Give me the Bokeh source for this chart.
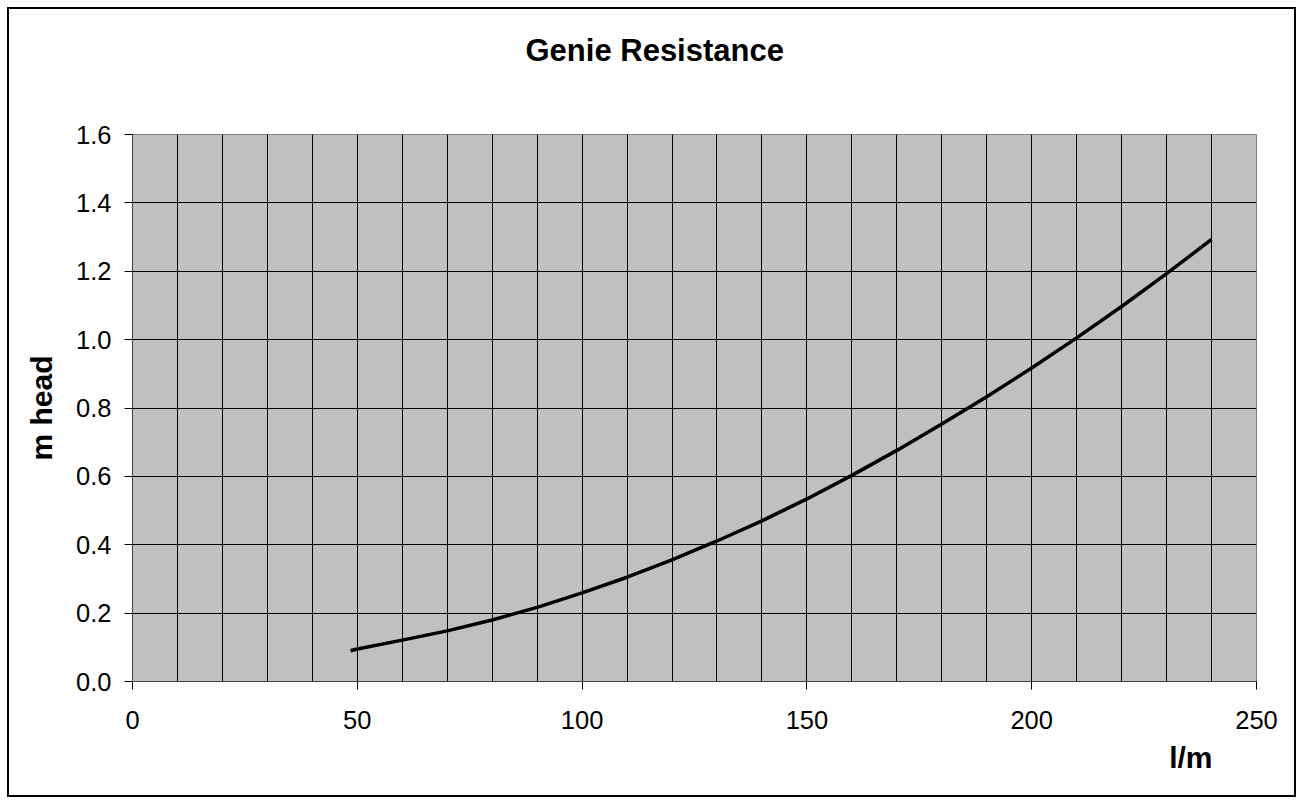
from bokeh.plotting import figure
from bokeh.models import Range1d, SingleIntervalTicker, FixedTicker, PrintfTickFormatter, Title
from bokeh.embed import file_html
from bokeh.resources import INLINE

# data
flow_lpm = [48.5, 50, 60, 70, 80, 90, 100, 110, 120, 130, 140, 150, 160,
            170, 180, 190, 200, 210, 220, 230, 240]
head_m = [0.090, 0.095, 0.121, 0.148, 0.180, 0.217, 0.259, 0.305, 0.356, 0.411,
          0.470, 0.534, 0.603, 0.676, 0.753, 0.833, 0.917, 1.005, 1.097, 1.193, 1.293]
x_ticks = [0, 50, 100, 150, 200, 250]
y_ticks = [0.0, 0.2, 0.4, 0.6, 0.8, 1.0, 1.2, 1.4, 1.6]

FONT = "Liberation Sans"

p = figure(width=1303, height=804, output_backend="svg", toolbar_location=None,
           title=None,
           x_range=Range1d(0, 250), y_range=Range1d(0, 1.6),
           min_border_left=132, min_border_right=47, min_border_top=134,
           min_border_bottom=123)
# outer chart border (drawn by CSS on the plot element)
p.styles = {"outline": "2px solid black", "outline-offset": "-9px"}

p.background_fill_color = "#C0C0C0"
p.border_fill_color = None
p.outline_line_color = "#808080"
p.outline_line_width = 1

# spacer between frame and title, then the title itself
p.add_layout(Title(text=" ", text_font=FONT, text_font_size="10px",
                   standoff=49), "above")
p.add_layout(Title(text="Genie Resistance", align="left", offset=393,
                   text_font=FONT, text_font_size="31px", text_font_style="bold",
                   text_color="black", standoff=10), "above")

p.add_layout(Title(text="l/m", align="right", offset=44, text_font=FONT,
                   text_font_size="30px", text_font_style="bold",
                   text_color="black", standoff=15), "below")

# axes
p.xaxis.ticker = FixedTicker(ticks=x_ticks)
p.yaxis.ticker = FixedTicker(ticks=y_ticks)
p.yaxis.formatter = PrintfTickFormatter(format="%.1f")
for ax in (p.xaxis[0], p.yaxis[0]):
    ax.major_tick_out = 8
    ax.major_tick_in = 0
    ax.minor_tick_out = 0
    ax.minor_tick_in = 0
    ax.axis_line_color = "#404040"
    ax.major_tick_line_color = "black"
    ax.major_label_text_font = FONT
    ax.major_label_text_font_size = "25.5px"
    ax.major_label_text_color = "black"
p.xaxis.major_label_standoff = 21
p.yaxis.major_label_standoff = 13
p.yaxis.axis_label = "m head"
p.yaxis.axis_label_text_font = FONT
p.yaxis.axis_label_text_font_size = "30px"
p.yaxis.axis_label_text_font_style = "bold"
p.yaxis.axis_label_text_color = "black"
p.yaxis.axis_label_standoff = 15

# grids
p.xgrid.ticker = SingleIntervalTicker(interval=10)
p.xgrid.grid_line_color = "black"
p.xgrid.grid_line_width = 1
p.ygrid.grid_line_color = "black"
p.ygrid.grid_line_width = 1

p.line(flow_lpm, head_m, line_color="black", line_width=3.5)

open("out.html", "w").write(file_html(p, INLINE))
